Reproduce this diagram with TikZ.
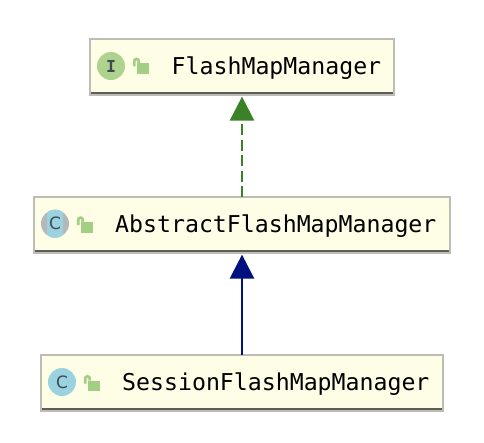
\documentclass[tikz,border=0pt]{standalone}
\usepackage{fontspec}
\setmainfont{DejaVu Sans Mono}
\newfontfamily\badgefont{DejaVu Sans}
\usetikzlibrary{arrows.meta,calc}
\definecolor{boxfill}{HTML}{FEFEE6}
\definecolor{boxedge}{HTML}{BDBDB5}
\definecolor{boxshade}{HTML}{5E5E58}
\definecolor{lockgreen}{HTML}{A3CF85}
\definecolor{ibadge}{HTML}{AED38F}
\definecolor{cbadge}{HTML}{9AD2E0}
\definecolor{cring}{HTML}{B4B8BB}
\definecolor{glyph}{HTML}{3E4A50}
\definecolor{implgreen}{HTML}{3A8128}
\definecolor{extblue}{HTML}{00107F}
\tikzset{
  x=1pt,y=-1pt,
  classbox/.style={draw=boxedge,fill=boxfill,line width=2pt,inner sep=0pt,outer sep=0pt,anchor=north west,minimum height=55.6pt},
  classname/.style={font=\fontsize{23.2}{26}\selectfont,inner sep=0pt,anchor=base west,text=black},
  badge/.style={circle,minimum size=28pt,inner sep=0pt,text=glyph,font=\bfseries\fontsize{16.5}{18}\selectfont},
  cletter/.style={font=\badgefont\fontsize{17}{18}\selectfont},
  implarrow/.style={draw=implgreen,line width=2.5pt,dash pattern=on 11pt off 4.5pt,shorten >=2pt,-{Triangle[length=24pt,width=24pt,fill=implgreen,color=implgreen]}},
  extarrow/.style={draw=extblue,line width=2.4pt,shorten >=2pt,-{Triangle[length=24pt,width=24pt,fill=extblue,color=extblue]}},
}
\newcommand{\lockicon}[2]{%
  \fill[lockgreen] (#1+2.5,#2-3) rectangle (#1+14.8,#2+7.7);
  \draw[lockgreen,line width=2.8pt] (#1,#2) -- (#1,#2-5) arc[start angle=180,end angle=360,radius=2.3] -- (#1+4.6,#2-3);
}
\newcommand{\shadeline}[1]{%
  \draw[boxshade,line width=2pt] ($(#1.south west)+(1,-2)$) -- ($(#1.south east)+(-1,-2)$);
}
\begin{document}
\begin{tikzpicture}
\useasboundingbox (0,0) rectangle (484,442);
\fill[white] (0,0) rectangle (484,442);
% class boxes
\node[classbox,minimum width=304pt] (top) at (90,39) {};
\node[classbox,minimum width=416pt] (mid) at (34,197) {};
\node[classbox,minimum width=402pt] (bot) at (41,355) {};
\shadeline{top}
\shadeline{mid}
\shadeline{bot}
% badges
\node[badge,fill=ibadge] (ibdg) at (111,66) {I};
\node[badge,fill=cring] (mbdg) at (55,223.7) {};
\begin{scope}
  \clip (mbdg.center) circle[radius=14];
  \fill[cbadge] (47,205) rectangle (63,245);
\end{scope}
\node[badge,cletter] (mbdgtext) at (55,223.7) {C};
\node[badge,cletter,fill=cbadge] (bbdg) at (62,382) {C};
% visibility locks
\lockicon{134.2}{66.3}
\lockicon{78.2}{225}
\lockicon{85.2}{383.7}
% names
\node[classname] (topname) at (171.5,74.3) {FlashMapManager};
\node[classname] (midname) at (115,232.4) {AbstractFlashMapManager};
\node[classname] (botname) at (122,390.3) {SessionFlashMapManager};
% connectors
\draw[implarrow] (mid.north) -- (top.south);
\draw[extarrow] (bot.north) -- (mid.south);
\end{tikzpicture}
\end{document}
